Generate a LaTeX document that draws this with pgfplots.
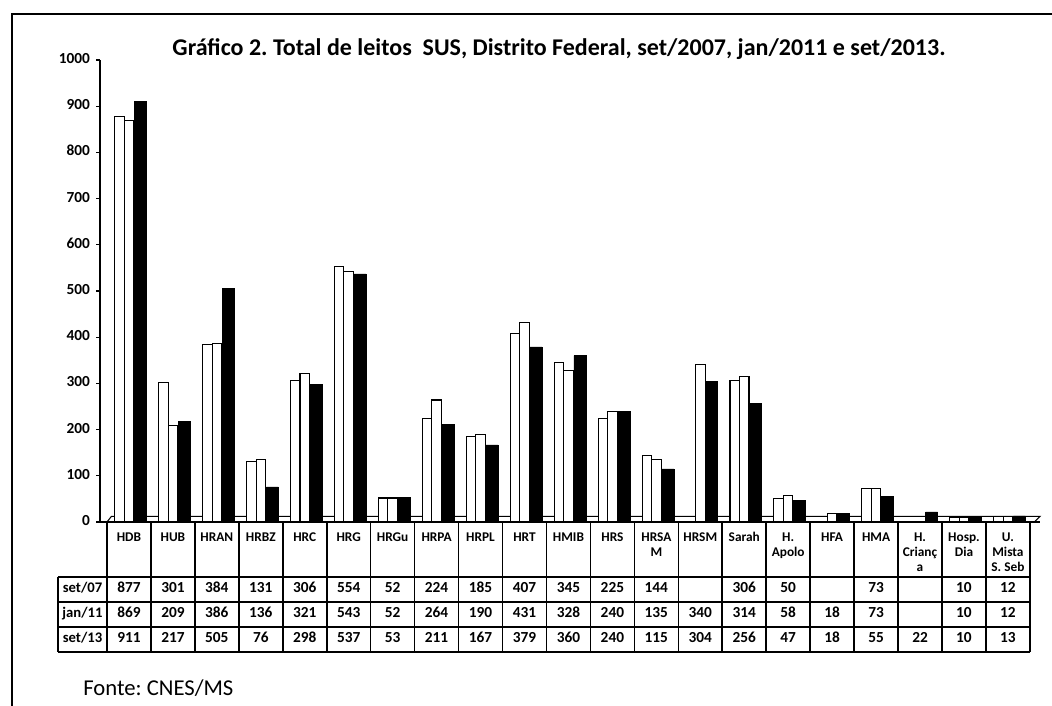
\documentclass[border=0pt]{standalone}
\usepackage{pgfplots}
\pgfplotsset{compat=1.18}
\usepackage{pgfplotstable}
\usepackage{fontspec}
\setmainfont{Carlito}[Numbers=Lining]
\frenchspacing

\pgfplotstableread{
x s07 s11 s13
0 877 869 911
1 301 209 217
2 384 386 505
3 131 136 76
4 306 321 298
5 554 543 537
6 52 52 53
7 224 264 211
8 185 190 167
9 407 431 379
10 345 328 360
11 225 240 240
12 144 135 115
13 nan 340 304
14 306 314 256
15 50 58 47
16 nan 18 18
17 73 73 55
18 nan nan 22
19 10 10 10
20 12 12 13
}\leitos

\begin{document}
\begin{tikzpicture}
\useasboundingbox (0,0) rectangle (789pt,529.5pt);
\draw[line width=1.5pt] (9pt,0) -- (9pt,519pt) -- (789pt,519pt);
\node[font=\bfseries\fontsize{18}{21}\selectfont] at (419.25pt,492.75pt) {Gráfico 2. Total de leitos\ \ SUS, Distrito Federal, set/2007, jan/2011 e set/2013.};
\node[anchor=west, inner sep=0pt, font=\fontsize{17}{20}\selectfont] at (62.25pt,13.5pt) {Fonte: CNES/MS};
\begin{axis}[
  at={(75pt,138pt)}, anchor=south west,
  scale only axis, width=705pt, height=346.5pt,
  xmin=-0.659, xmax=20.73, ymin=0, ymax=1000,
  axis x line*=bottom, axis y line*=left,
  x axis line style={-, line width=1pt}, y axis line style={-, line width=1pt},
  ytick={0,100,...,1000},
  xtick={0,...,20},
  xticklabels={HDB,HUB,HRAN,HRBZ,HRC,HRG,HRGu,HRPA,HRPL,HRT,HMIB,HRS,{HRSA\\M},HRSM,Sarah,{H.\\Apolo},HFA,HMA,{H.\\Crianç\\a},{Hosp.\\Dia},{U.\\Mista\\S. Seb}},
  typeset ticklabels with strut,
  x tick label style={font=\bfseries\fontsize{10}{11.25}\selectfont, align=center, anchor=north},
  major x tick style={draw=none},
  y tick label style={font=\bfseries\fontsize{11.5}{13}\selectfont, xshift=-1pt},
  tick align=outside, major tick length=3pt,
  tick style={black, line width=0.8pt},
  /pgf/number format/assume math mode=true,
  /pgf/number format/1000 sep={},
  clip=false,
]
\draw[line width=0.8pt] (axis cs:-0.5,0) -- (axis cs:-0.4,12) -- (axis cs:20.73,12) -- (axis cs:20.6,0);
\addplot[ybar, bar width=7.125pt, bar shift=-7.125pt, fill=white, draw=black, line width=0.8pt] table[x=x,y=s07]{\leitos};
\addplot[ybar, bar width=7.125pt, bar shift=0pt, fill=white, draw=black, line width=0.8pt] table[x=x,y=s11]{\leitos};
\addplot[ybar, bar width=9pt, bar shift=8.625pt, fill=black, draw=black, line width=0.5pt] table[x=x,y=s13]{\leitos};

\addplot[draw=none, mark=none, nodes near coords, point meta=explicit,
  every node near coord/.append style={anchor=base, font=\bfseries\fontsize{11.5}{13}\selectfont, text=black}]
  table[x=x, y expr=\thisrow{s07}*0-153.5, meta=s07]{\leitos};
\addplot[draw=none, mark=none, nodes near coords, point meta=explicit,
  every node near coord/.append style={anchor=base, font=\bfseries\fontsize{11.5}{13}\selectfont, text=black}]
  table[x=x, y expr=\thisrow{s11}*0-207.6, meta=s11]{\leitos};
\addplot[draw=none, mark=none, nodes near coords, point meta=explicit,
  every node near coord/.append style={anchor=base, font=\bfseries\fontsize{11.5}{13}\selectfont, text=black}]
  table[x=x, y expr=\thisrow{s13}*0-261.7, meta=s13]{\leitos};

\pgfplotsinvokeforeach{-0.5,0.5,...,20.5}{\draw[line width=1.2pt] (axis cs:#1,0) -- (axis cs:#1,-281.4);}
\draw[line width=1.2pt] (axis cs:-1.615,-119) -- (axis cs:20.5,-119);
\draw[line width=1.2pt] (axis cs:-1.615,-173.2) -- (axis cs:20.5,-173.2);
\draw[line width=1.2pt] (axis cs:-1.615,-227.3) -- (axis cs:20.5,-227.3);
\draw[line width=1.2pt] (axis cs:-1.615,-281.4) -- (axis cs:20.5,-281.4);
\draw[line width=1.2pt] (axis cs:-1.615,-119) -- (axis cs:-1.615,-281.4);
\node[anchor=base, font=\bfseries\fontsize{11}{13}\selectfont] at (axis cs:-1.057,-153.5) {set/07};
\node[anchor=base, font=\bfseries\fontsize{11}{13}\selectfont] at (axis cs:-1.057,-207.6) {jan/11};
\node[anchor=base, font=\bfseries\fontsize{11}{13}\selectfont] at (axis cs:-1.057,-261.7) {set/13};
\end{axis}
\end{tikzpicture}
\end{document}
